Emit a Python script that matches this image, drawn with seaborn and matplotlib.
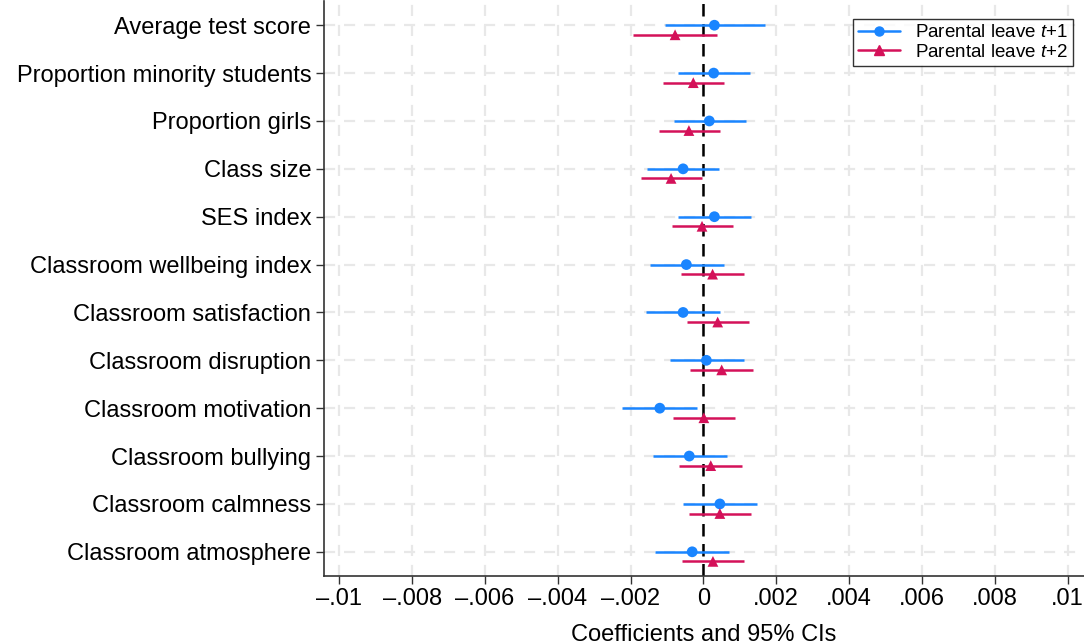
import numpy as np
import pandas as pd
import matplotlib
matplotlib.use("Agg")
import matplotlib.pyplot as plt
from matplotlib.lines import Line2D
import seaborn as sns

outcomes = ["Average test score", "Proportion minority students", "Proportion girls",
            "Class size", "SES index", "Classroom wellbeing index",
            "Classroom satisfaction", "Classroom disruption", "Classroom motivation",
            "Classroom bullying", "Classroom calmness", "Classroom atmosphere"]

# parental leave t+1
b1 = [0.00030, 0.00028, 0.00016, -0.00056, 0.00030, -0.00047,
      -0.00056, 0.00008, -0.00120, -0.00039, 0.00045, -0.00031]
lo1 = [-0.00107, -0.00071, -0.00082, -0.00155, -0.00069, -0.00147,
       -0.00157, -0.00093, -0.00223, -0.00139, -0.00057, -0.00132]
hi1 = [0.00168, 0.00128, 0.00117, 0.00044, 0.00131, 0.00056,
       0.00045, 0.00110, -0.00017, 0.00064, 0.00146, 0.00071]

# parental leave t+2
b2 = [-0.00078, -0.00028, -0.00040, -0.00089, -0.00004, 0.00025,
      0.00039, 0.00050, 0.00001, 0.00020, 0.00045, 0.00026]
lo2 = [-0.00193, -0.00112, -0.00123, -0.00172, -0.00087, -0.00062,
       -0.00046, -0.00036, -0.00085, -0.00066, -0.00041, -0.00060]
hi2 = [0.00037, 0.00057, 0.00045, -0.00003, 0.00082, 0.00111,
       0.00126, 0.00136, 0.00087, 0.00106, 0.00131, 0.00112]

xticks = [-0.01, -0.008, -0.006, -0.004, -0.002, 0, 0.002, 0.004, 0.006, 0.008, 0.01]
xticklabels = ["\u2013.01", "\u2013.008", "\u2013.006", "\u2013.004", "\u2013.002", "0",
               ".002", ".004", ".006", ".008", ".01"]

series = ["Parental leave $t$+1", "Parental leave $t$+2"]
colors = ["#1A85FF", "#D41159"]
markers = ["o", "^"]
offsets = [0.0, 0.2]

sns.set_theme(style="white")
plt.rcParams["font.family"] = ["Liberation Sans", "DejaVu Sans"]
plt.rcParams["mathtext.fontset"] = "custom"
plt.rcParams["mathtext.it"] = "Liberation Sans:italic"
plt.rcParams["mathtext.rm"] = "Liberation Sans"
for k in ["text.color", "axes.labelcolor", "xtick.color", "ytick.color"]:
    plt.rcParams[k] = "black"

rows = []
for name, b, lo, hi, off in zip(series, [b1, b2], [lo1, lo2], [hi1, hi2], offsets):
    for i, o in enumerate(outcomes):
        rows.append({"series": name, "outcome": o, "pos": i + 1 + off,
                     "b": b[i], "lo": lo[i], "hi": hi[i]})
df = pd.DataFrame(rows)

fig = plt.figure(figsize=(10.84, 6.44), dpi=100)
ax = fig.add_axes([0.2986, 0.106, 0.7014, 0.892])

# grid
for xt in xticks:
    ax.axvline(xt, color="#e8e8e8", lw=1.6, ls=(0, (5, 4)), zorder=0)
for i in range(len(outcomes)):
    ax.axhline(i + 1, color="#e8e8e8", lw=1.6, ls=(0, (5, 4)), zorder=0)
ax.axvline(0, color="black", lw=1.8, ls=(0, (5, 3)), zorder=1)

for name, c in zip(series, colors):
    d = df[df.series == name]
    ax.hlines(d["pos"], d["lo"], d["hi"], color=c, lw=1.8, zorder=2)

sns.scatterplot(data=df, x="b", y="pos", hue="series", style="series",
                palette=dict(zip(series, colors)), markers=dict(zip(series, markers)),
                s=60, edgecolor="none", legend=False, ax=ax, zorder=3)

ax.set_xlim(-0.01043, 0.01045)
ax.set_ylim(len(outcomes) + 0.5, 0.5)
ax.set_xticks(xticks)
ax.set_xticklabels(xticklabels, fontsize=17)
ax.set_yticks(range(1, len(outcomes) + 1))
ax.set_yticklabels(outcomes, fontsize=17)
ax.set_xlabel("Coefficients and 95% CIs", fontsize=17, labelpad=10)
ax.set_ylabel("")
ax.tick_params(axis="both", direction="out", length=6, width=1, color="#333333",
               bottom=True, left=True, pad=3)

for s in ["top", "right"]:
    ax.spines[s].set_visible(False)
for s in ["left", "bottom"]:
    ax.spines[s].set_color("#333333")
    ax.spines[s].set_linewidth(1.2)

handles = [Line2D([0], [0], color=c, marker=m, lw=1.8, markersize=6.5)
           for c, m in zip(colors, markers)]
leg = ax.legend(handles, series, loc="upper right", bbox_to_anchor=(0.9855, 0.970),
                fontsize=13.5, frameon=True, fancybox=False, borderpad=0.3,
                labelspacing=0.12, handlelength=2.2, handletextpad=0.8, borderaxespad=0)
leg.get_frame().set_edgecolor("black")
leg.get_frame().set_linewidth(1.0)

fig.savefig("out.png", dpi=100)
